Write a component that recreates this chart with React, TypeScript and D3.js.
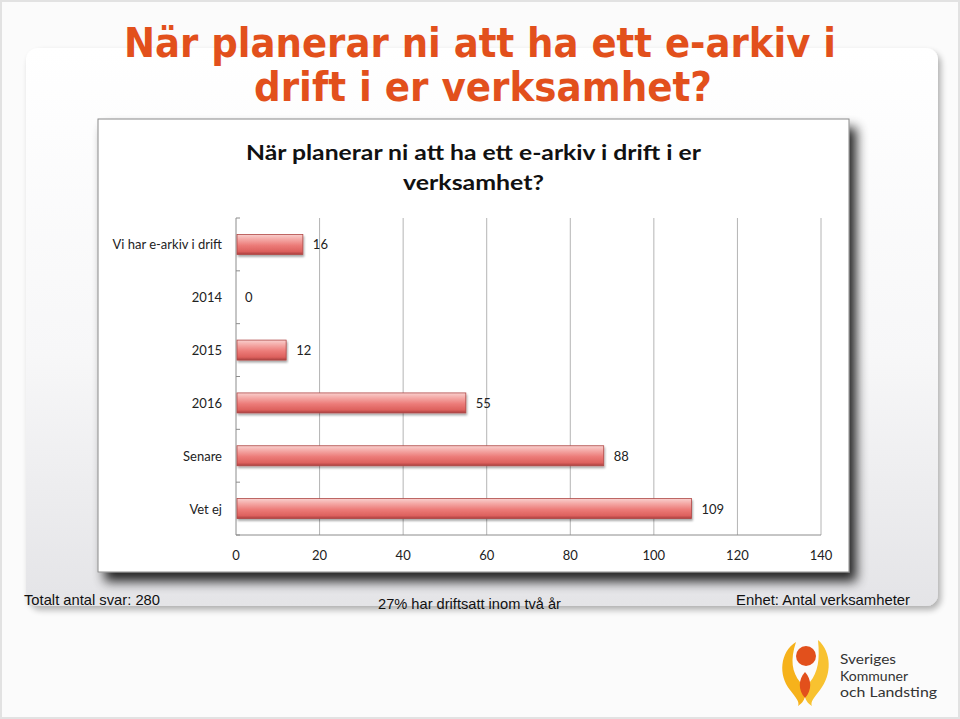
import React from "react";
import * as d3 from "d3";

const categories = ["Vi har e-arkiv i drift", "2014", "2015", "2016", "Senare", "Vet ej"];
const values = [16, 0, 12, 55, 88, 109];
const xTicks = [0, 20, 40, 60, 80, 100, 120, 140];
const mainTitle = ["När planerar ni att ha ett e-arkiv i", "drift i er verksamhet?"];
const chartTitle = ["När planerar ni att ha ett e-arkiv i drift i er", "verksamhet?"];
const footer = ["Totalt antal svar: 280", "27% har driftsatt inom två år", "Enhet: Antal verksamheter"];
const logoText = ["Sveriges", "Kommuner", "och Landsting"];

const W = 960;
const H = 719;
const plot = { left: 236, right: 821, top: 218, bottom: 535 };
const chartFont = "Lato, 'Open Sans', 'DejaVu Sans', sans-serif";

export default function App() {
  const x = d3.scaleLinear().domain([0, 140]).range([plot.left, plot.right]);
  const y = d3.scaleBand<string>().domain(categories).range([plot.top, plot.bottom]).padding(0);
  const bw = y.bandwidth();
  const barH = 20;
  const boundaries = d3.range(categories.length + 1).map((i) => plot.top + i * bw);

  return (
    <svg width={W} height={H} style={{ position: "absolute", left: 0, top: 0 }}>
      <defs>
        <linearGradient id="panelGrad" x1="0" y1="0" x2="0" y2="1">
          <stop offset="0%" stopColor="#ffffff" />
          <stop offset="55%" stopColor="#f7f7f8" />
          <stop offset="100%" stopColor="#e4e4e7" />
        </linearGradient>
        <linearGradient id="barGrad" x1="0" y1="0" x2="0" y2="1">
          <stop offset="0%" stopColor="#f9d0ce" />
          <stop offset="25%" stopColor="#f4a8a5" />
          <stop offset="55%" stopColor="#ec7b78" />
          <stop offset="85%" stopColor="#dd615e" />
          <stop offset="100%" stopColor="#a9403e" />
        </linearGradient>
        <filter id="boxShadow" x="-10%" y="-10%" width="125%" height="135%">
          <feGaussianBlur in="SourceAlpha" stdDeviation="6" />
          <feOffset dx="7" dy="9" result="o" />
          <feComponentTransfer>
            <feFuncA type="linear" slope="0.85" />
          </feComponentTransfer>
          <feMerge>
            <feMergeNode />
            <feMergeNode in="SourceGraphic" />
          </feMerge>
        </filter>
        <filter id="panelShadow" x="-5%" y="-5%" width="110%" height="112%">
          <feGaussianBlur in="SourceAlpha" stdDeviation="3" />
          <feOffset dx="3" dy="4" />
          <feComponentTransfer>
            <feFuncA type="linear" slope="0.3" />
          </feComponentTransfer>
          <feMerge>
            <feMergeNode />
            <feMergeNode in="SourceGraphic" />
          </feMerge>
        </filter>
        <filter id="barShadow" x="-5%" y="-20%" width="110%" height="160%">
          <feGaussianBlur in="SourceAlpha" stdDeviation="1.2" />
          <feOffset dx="1" dy="2" />
          <feComponentTransfer>
            <feFuncA type="linear" slope="0.35" />
          </feComponentTransfer>
          <feMerge>
            <feMergeNode />
            <feMergeNode in="SourceGraphic" />
          </feMerge>
        </filter>
      </defs>

      {/* page background */}
      <rect x={0} y={0} width={W} height={H} fill="#fbfbfb" />
      <rect x={1} y={1} width={W - 2} height={H - 2} fill="none" stroke="#e2e2e2" strokeWidth={2} />

      {/* panel */}
      <rect x={26} y={48} width={912} height={558} rx={12} fill="url(#panelGrad)" filter="url(#panelShadow)" />

      {/* main title */}
      {mainTitle.map((t, i) => (
        <text
          key={t}
          x={i === 0 ? 124 : 254}
          y={i === 0 ? 57 : 101}
          textLength={i === 0 ? 712 : 458}
          lengthAdjust="spacingAndGlyphs"
          fill="#e2501c"
          fontFamily="'DejaVu Sans', Verdana, sans-serif"
          fontWeight="bold"
          fontSize={41}
        >
          {t}
        </text>
      ))}

      {/* chart box */}
      <rect x={98} y={119} width={751} height={453} fill="#ffffff" stroke="#8a8a8a" strokeWidth={1} filter="url(#boxShadow)" />

      {/* chart title */}
      {chartTitle.map((t, i) => (
        <text
          key={t}
          x={i === 0 ? 246 : 403}
          y={i === 0 ? 160 : 190}
          textLength={i === 0 ? 455 : 141}
          lengthAdjust="spacingAndGlyphs"
          fill="#111"
          fontFamily={chartFont}
          fontWeight="bold"
          fontSize={21}
        >
          {t}
        </text>
      ))}

      {/* gridlines */}
      {xTicks.slice(1).map((t) => (
        <line key={t} x1={x(t)} x2={x(t)} y1={plot.top} y2={plot.bottom} stroke="#b4b4b4" strokeWidth={1} />
      ))}
      {/* axes */}
      <line x1={plot.left} x2={plot.left} y1={plot.top} y2={plot.bottom} stroke="#8c8c8c" strokeWidth={1} />
      <line x1={plot.left} x2={plot.right} y1={plot.bottom} y2={plot.bottom} stroke="#8c8c8c" strokeWidth={1} />
      {boundaries.map((b, i) => (
        <line key={i} x1={plot.left} x2={plot.left + 4} y1={b} y2={b} stroke="#8c8c8c" strokeWidth={1} />
      ))}

      {/* x tick labels */}
      {xTicks.map((t) => (
        <text key={t} x={x(t)} y={560} textAnchor="middle" fontFamily={chartFont} fontSize={13} fill="#222">
          {t}
        </text>
      ))}

      {/* bars */}
      {categories.map((c, i) => {
        const cy = (y(c) as number) + bw / 2;
        const v = values[i];
        const w = x(v) - x(0);
        return (
          <g key={c}>
            <text x={222} y={cy + 5} textAnchor="end" fontFamily={chartFont} fontSize={13} fill="#222">
              {c}
            </text>
            {v > 0 && (
              <rect
                x={x(0) + 1}
                y={cy - barH / 2}
                width={w - 1}
                height={barH}
                fill="url(#barGrad)"
                stroke="#b04846"
                strokeWidth={0.8}
                filter="url(#barShadow)"
              />
            )}
            <text x={x(v) + (v > 0 ? 10 : 9)} y={cy + 5} fontFamily={chartFont} fontSize={13} fill="#222">
              {v}
            </text>
          </g>
        );
      })}

      {/* footer */}
      <text x={24} y={605} textLength={136} lengthAdjust="spacingAndGlyphs" fontFamily="'Liberation Sans', Arial, sans-serif" fontSize={15} fill="#111">
        {footer[0]}
      </text>
      <text x={378} y={609} textLength={183} lengthAdjust="spacingAndGlyphs" fontFamily="'Liberation Sans', Arial, sans-serif" fontSize={15} fill="#111">
        {footer[1]}
      </text>
      <text x={736} y={605} textLength={174} lengthAdjust="spacingAndGlyphs" fontFamily="'Liberation Sans', Arial, sans-serif" fontSize={15} fill="#111">
        {footer[2]}
      </text>

      {/* logo */}
      <g>
        <path d="M796,642 C780,652 778,675 790,690 C796,698 800,702 798,706 C808,700 806,690 800,682 C792,672 790,660 796,642 Z" fill="#f6b21b" />
        <path d="M818,640 C832,652 832,675 820,690 C814,698 810,702 812,706 C802,700 804,690 810,682 C818,672 820,660 818,640 Z" fill="#f8c230" />
        <circle cx={806} cy={656} r={10} fill="#e2501c" />
        <path d="M805,672 C798,680 798,690 805,698 C812,690 812,680 805,672 Z" fill="#e2501c" />
        {logoText.map((t, i) => (
          <text key={t} x={840} y={664 + i * 16.5} fontFamily="Lato, 'Open Sans', sans-serif" fontSize={13.5} fill="#333" textLength={i === 0 ? 56 : i === 1 ? 68 : 97} lengthAdjust="spacingAndGlyphs">
            {t}
          </text>
        ))}
      </g>
    </svg>
  );
}
